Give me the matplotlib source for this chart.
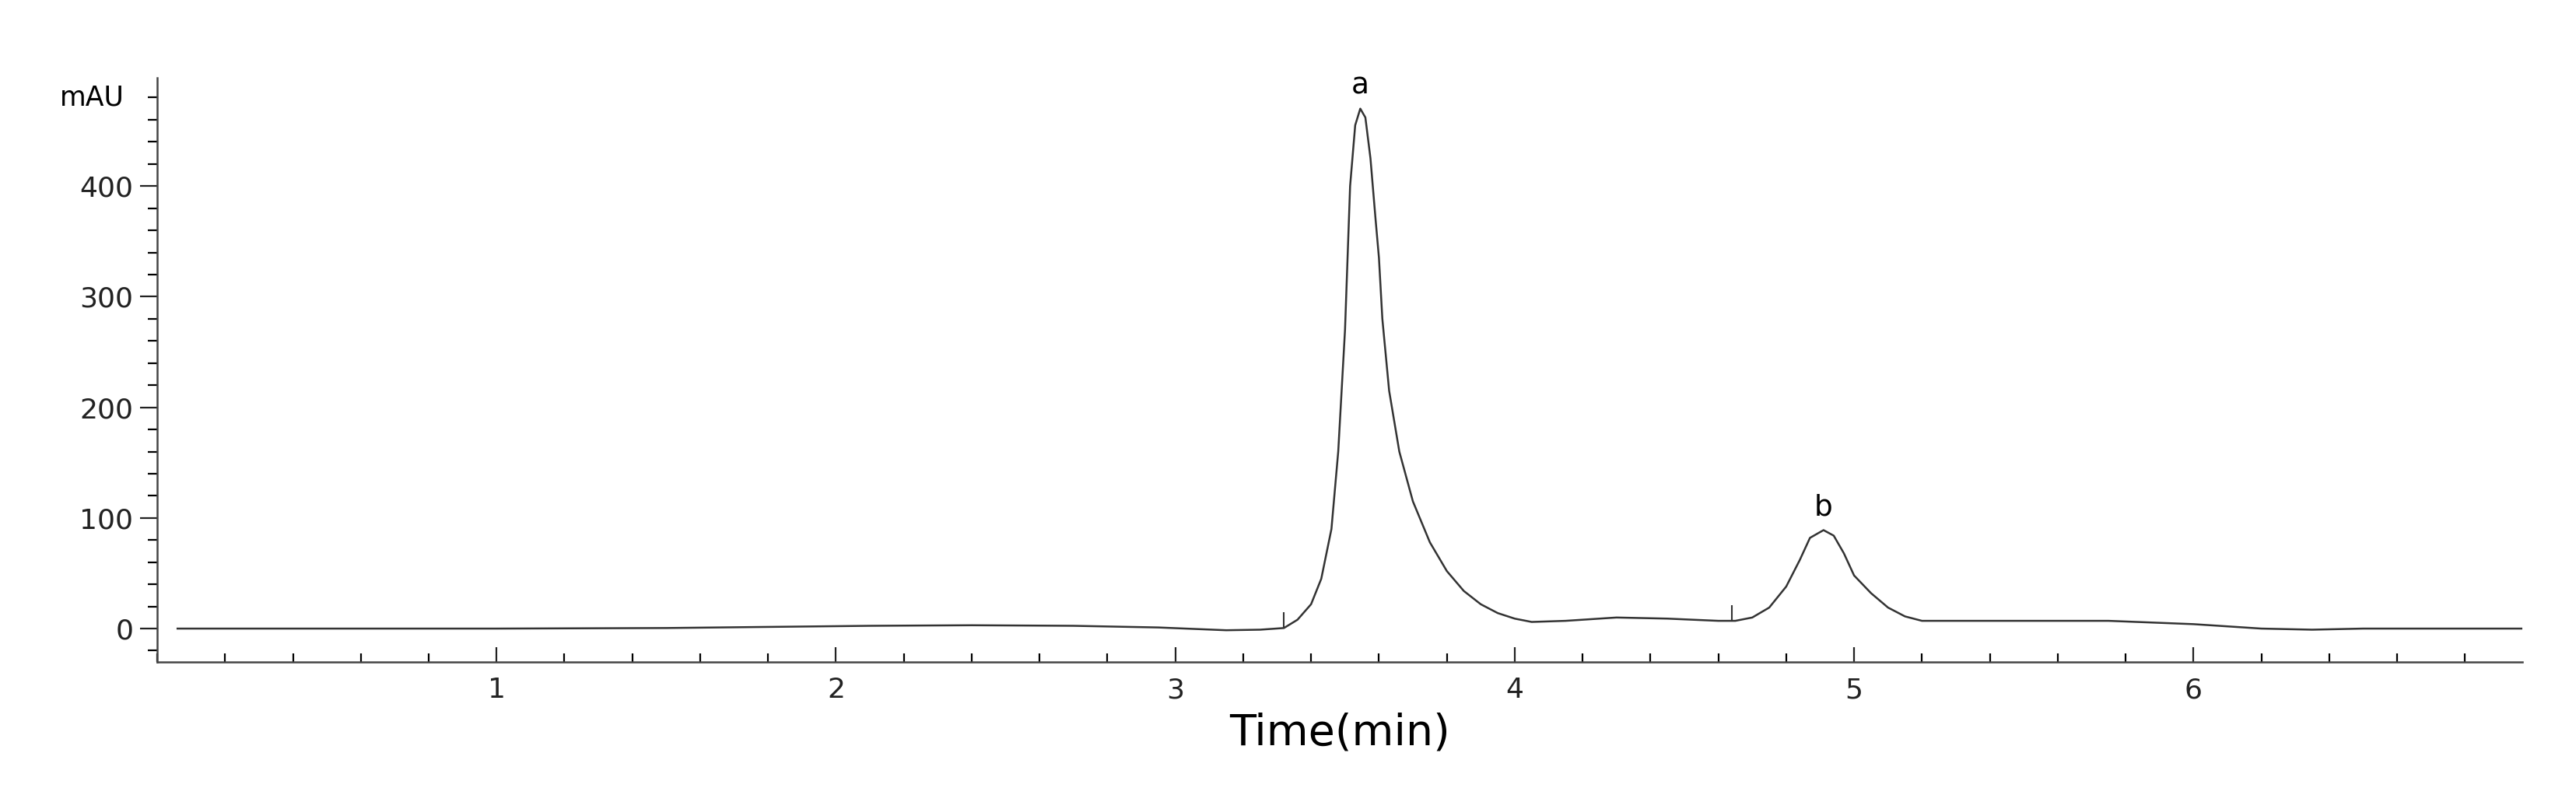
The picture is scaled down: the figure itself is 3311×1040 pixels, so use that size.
import matplotlib
matplotlib.use("Agg")
import matplotlib.pyplot as plt
from matplotlib.ticker import MultipleLocator

time = [0.06, 0.5, 1.0, 1.5, 1.8, 2.1, 2.4, 2.7, 2.95, 3.15, 3.25, 3.32, 3.36, 3.40, 3.43, 3.46,
        3.48, 3.50, 3.515, 3.53, 3.545, 3.56, 3.575, 3.59, 3.60, 3.61, 3.63, 3.66, 3.70, 3.75,
        3.80, 3.85, 3.90, 3.95, 4.00, 4.05, 4.15, 4.30, 4.45, 4.60, 4.65, 4.70, 4.75, 4.80,
        4.84, 4.87, 4.91, 4.94, 4.97, 5.00, 5.05, 5.10, 5.15, 5.20, 5.50, 5.75, 6.00, 6.20,
        6.35, 6.50, 6.97]
signal = [0, 0, 0, 0.5, 1.5, 2.5, 3, 2.5, 1, -1.5, -1, 0.5, 8, 22, 45, 90,
          160, 270, 400, 455, 470, 462, 425, 370, 335, 280, 215, 160, 115, 78,
          52, 34, 22, 14, 9, 6, 7, 10, 9, 7, 7, 10, 19, 38,
          62, 82, 89, 84, 68, 48, 32, 19, 11, 7, 7, 7, 4, 0,
          -1, 0, 0]
peak_labels = ["a", "b"]
peak_times = [3.545, 4.91]
peak_heights = [470, 89]
marker_times = [3.32, 4.64]
marker_base = [0.5, 7]

fig = plt.figure(figsize=(33.12, 10.4), dpi=100)
ax = fig.add_axes([0.061, 0.182, 0.918, 0.722])
ax.plot(time, signal, color="#333333", lw=1.8)
for t, b in zip(marker_times, marker_base):
    ax.vlines(t, b, b + 14, color="#333333", lw=1.5)
for lab, t, h in zip(peak_labels, peak_times, peak_heights):
    ax.text(t, h + 8, lab, ha="center", va="bottom", fontsize=27)

ax.set_xlim(0, 6.97)
ax.set_ylim(-30, 498)
ax.xaxis.set_major_locator(MultipleLocator(1))
ax.xaxis.set_minor_locator(MultipleLocator(0.2))
ax.yaxis.set_major_locator(MultipleLocator(100))
ax.yaxis.set_minor_locator(MultipleLocator(20))
ax.set_xticks([1, 2, 3, 4, 5, 6])
for s in ["top", "right"]:
    ax.spines[s].set_visible(False)
for s in ["left", "bottom"]:
    ax.spines[s].set_color("#444444")
    ax.spines[s].set_linewidth(1.8)
ax.tick_params(axis="y", which="major", length=16, width=1.6, labelsize=26, colors="#222222", pad=6)
ax.tick_params(axis="y", which="minor", length=9, width=1.6)
ax.tick_params(axis="x", which="major", direction="in", length=14, width=1.6, labelsize=26, pad=14, colors="#222222")
ax.tick_params(axis="x", which="minor", direction="in", length=8, width=1.6)
ax.text(-0.014, 480, "mAU", transform=ax.get_yaxis_transform(), ha="right", va="center", fontsize=25)
ax.set_xlabel("Time(min)", fontsize=40, labelpad=8)
fig.savefig("out.png", dpi=100)
